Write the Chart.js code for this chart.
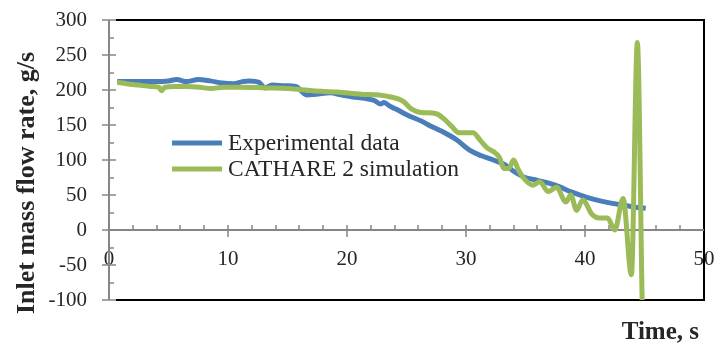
<!DOCTYPE html>
<html>
<head>
<meta charset="utf-8">
<script src="https://cdn.jsdelivr.net/npm/chart.js@4.4.1/dist/chart.umd.min.js"></script>
<style>
  html, body { margin: 0; padding: 0; background: #ffffff; }
  #wrap { width: 717px; height: 345px; position: relative; }
</style>
</head>
<body>
<div id="wrap"><canvas id="chart" width="717" height="345"></canvas></div>
<script>
// Measured inlet mass flow rate (g/s) over time (s)
const expTime = [0.7, 2, 3, 4, 5, 5.7, 6.5, 7.5, 8.5, 9.5, 10.5, 11.2, 11.8, 12.6, 13.1, 13.7, 14.8, 15.7, 16.6, 17.4, 18.6, 19.5, 20.5, 21.5, 22.3, 22.8, 23.1, 23.6, 24.2, 25.1, 26.2, 27.2, 28.2, 29.2, 30.3, 31.3, 32.3, 33.3, 34.0, 34.8, 36.0, 37.5, 38.9, 40.1, 41.2, 42.3, 43.4, 44.4, 45.1];
const expFlow = [212, 212, 212, 212, 213, 215, 212, 215, 213, 210, 209, 212, 213, 211, 203, 207, 206, 205, 193, 194, 196, 193, 190, 188, 185, 180, 182, 177, 172, 164, 156, 147, 139, 129, 114, 106, 100, 93, 84, 76, 71, 64, 54, 47, 42, 38, 35, 32, 31];

// CATHARE 2 computed inlet mass flow rate (g/s) over time (s)
const simTime = [0.7, 1.5, 2.5, 3.5, 4.2, 4.4, 4.7, 5.5, 6.5, 7.6, 8.6, 9.6, 11.1, 13.1, 15.1, 17.1, 19.2, 21.2, 22.7, 23.7, 24.7, 25.4, 26.2, 27.5, 28.2, 28.8, 29.4, 30.6, 31.2, 31.8, 32.3, 32.8, 33.2, 33.6, 34.0, 34.4, 34.8, 35.6, 36.2, 36.9, 37.6, 38.4, 38.8, 39.3, 39.8, 40.6, 41.2, 41.9, 42.5, 43.2, 43.9, 44.4, 44.8];
const simFlow = [211, 209, 207, 205, 204, 199, 204, 205, 205, 204, 202, 204, 204, 203, 202, 199, 197, 194, 193, 190, 184, 173, 168, 166, 158, 148, 139, 139, 128, 117, 112, 104, 88, 88, 100, 86, 75, 64, 69, 55, 61, 40, 50, 28, 43, 22, 17, 17, 0, 45, -64, 268, -100];

// Axis ranges and labels
const xRange = [0, 50];
const yRange = [-100, 300];
const xMajorStep = 10, xMinorStep = 2;
const yMajorStep = 50, yMinorStep = 25;
const xTitle = 'Time, s';
const yTitle = 'Inlet mass flow rate, g/s';
const seriesNames = ['Experimental data', 'CATHARE 2 simulation'];
const seriesColors = ['#4A7EBB', '#9BBB59'];

const toPoints = (xs, ys) => xs.map((t, i) => ({ x: t, y: ys[i] }));

const SERIF = "'Liberation Serif', 'Times New Roman', serif";
const TEXT = '#262626';
const AXIS = '#868686';

// plot rectangle on the canvas
const PLOT = { left: 109, top: 20, right: 704, bottom: 300 };
let yAxisWidth = PLOT.left;

// Plot frame, axis lines and tick marks
const axesPlugin = {
  id: 'axesFrame',
  beforeDatasetsDraw(chart) {
    const { ctx, chartArea: a, scales: { x, y } } = chart;
    const x0 = x.getPixelForValue(0);
    const y0 = y.getPixelForValue(0);
    ctx.save();
    ctx.lineCap = 'butt';
    ctx.strokeStyle = '#000';
    ctx.lineWidth = 2;
    ctx.beginPath();
    ctx.moveTo(a.left + 7, a.top);
    ctx.lineTo(a.right, a.top);
    ctx.lineTo(a.right, a.bottom);
    ctx.lineTo(a.left + 7, a.bottom);
    ctx.stroke();

    ctx.strokeStyle = AXIS;
    ctx.lineWidth = 2;
    ctx.beginPath();
    ctx.moveTo(x0, a.top);
    ctx.lineTo(x0, a.bottom);
    ctx.moveTo(a.left, y0);
    ctx.lineTo(a.right, y0);
    ctx.stroke();

    ctx.lineWidth = 1.5;
    ctx.beginPath();
    for (let v = yRange[0]; v <= yRange[1]; v += yMinorStep) {
      const py = Math.round(y.getPixelForValue(v));
      if (v % yMajorStep === 0) { ctx.moveTo(x0 - 7, py); ctx.lineTo(x0 + 7, py); }
      else { ctx.moveTo(x0, py); ctx.lineTo(x0 + 5, py); }
    }
    for (let t = xRange[0] + xMinorStep; t < xRange[1]; t += xMinorStep) {
      const px = Math.round(x.getPixelForValue(t));
      if (t % xMajorStep === 0) { ctx.moveTo(px, y0 - 5); ctx.lineTo(px, y0 + 7); }
      else { ctx.moveTo(px, y0 - 5); ctx.lineTo(px, y0); }
    }
    ctx.stroke();
    ctx.restore();
  },
  afterDraw(chart) {
    const { ctx } = chart;
    ctx.save();
    ctx.fillStyle = TEXT;
    // axis titles
    ctx.font = "bold 25px " + SERIF;
    ctx.textAlign = 'right';
    ctx.textBaseline = 'middle';
    ctx.fillText(xTitle, 699, 333);
    ctx.translate(27, 183);
    ctx.rotate(-Math.PI / 2);
    ctx.font = "bold 26px " + SERIF;
    ctx.textAlign = 'center';
    ctx.fillText(yTitle, 0, 0);
    ctx.restore();

    // legend inside the plot
    ctx.save();
    ctx.font = "23.5px " + SERIF;
    ctx.textAlign = 'left';
    ctx.textBaseline = 'middle';
    const legendRows = [143, 169];
    chart.data.datasets.forEach((ds, i) => {
      const ly = legendRows[i];
      ctx.strokeStyle = ds.borderColor;
      ctx.lineWidth = 5;
      ctx.beginPath();
      ctx.moveTo(172, ly);
      ctx.lineTo(222, ly);
      ctx.stroke();
      ctx.fillStyle = TEXT;
      ctx.fillText(ds.label, 228, ly + 1);
    });
    ctx.restore();
  }
};

const chart = new Chart(document.getElementById('chart'), {
  type: 'line',
  data: {
    datasets: [
      {
        label: seriesNames[0],
        data: toPoints(expTime, expFlow),
        borderColor: seriesColors[0],
        borderWidth: 5,
        pointRadius: 0,
        cubicInterpolationMode: 'monotone',
        fill: false,
        order: 1
      },
      {
        label: seriesNames[1],
        data: toPoints(simTime, simFlow),
        borderColor: seriesColors[1],
        borderWidth: 5,
        pointRadius: 0,
        cubicInterpolationMode: 'monotone',
        fill: false,
        order: 0
      }
    ]
  },
  options: {
    responsive: false,
    animation: false,
    devicePixelRatio: 1,
    layout: { padding: { left: 0, right: 717 - PLOT.right, top: PLOT.top, bottom: 345 - PLOT.bottom } },
    plugins: { legend: { display: false }, tooltip: { enabled: false } },
    scales: {
      x: {
        type: 'linear',
        position: { y: 0 },
        min: xRange[0],
        max: xRange[1],
        border: { display: false },
        grid: { display: false, drawTicks: false },
        ticks: {
          stepSize: xMajorStep,
          padding: 17,
          color: TEXT,
          maxRotation: 0,
          font: { family: SERIF, size: 21 }
        },
        afterFit(scale) { scale.paddingLeft = 0; scale.paddingRight = 0; }
      },
      y: {
        type: 'linear',
        position: 'left',
        min: yRange[0],
        max: yRange[1],
        border: { display: false },
        grid: { display: false, drawTicks: false },
        ticks: {
          stepSize: yMajorStep,
          padding: 22,
          color: TEXT,
          font: { family: SERIF, size: 21 }
        },
        afterFit(scale) { scale.width = yAxisWidth; scale.paddingTop = 0; scale.paddingBottom = 0; }
      }
    }
  },
  plugins: [axesPlugin]
});

// settle the plot rectangle onto PLOT
for (let k = 0; k < 4; k++) {
  const ca = chart.chartArea;
  const pad = chart.options.layout.padding;
  const dl = PLOT.left - ca.left, dt = PLOT.top - ca.top;
  const dr = ca.right - PLOT.right, db = ca.bottom - PLOT.bottom;
  if (Math.abs(dl) + Math.abs(dt) + Math.abs(dr) + Math.abs(db) < 0.5) break;
  yAxisWidth += dl;
  pad.top += dt;
  pad.right += dr;
  pad.bottom += db;
  chart.update();
}
</script>
</body>
</html>
